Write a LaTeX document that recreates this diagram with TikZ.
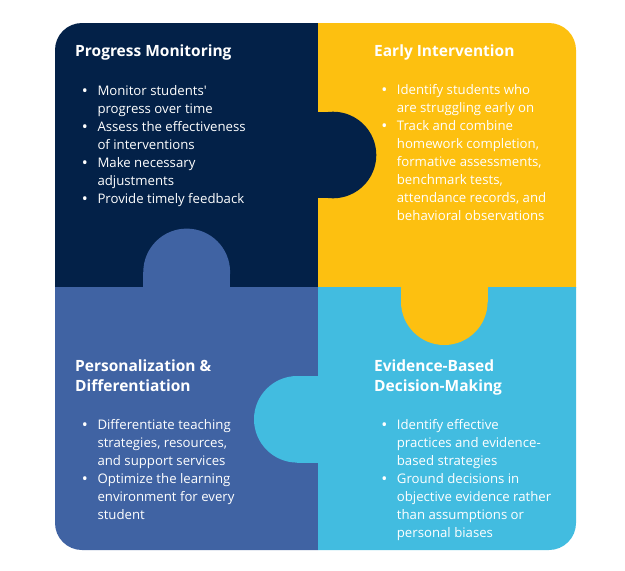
\documentclass[tikz,border=0pt]{standalone}
\usepackage{fontspec}
\setmainfont{Open Sans}
\definecolor{navyc}{RGB}{3,33,72}
\definecolor{yelc}{RGB}{253,192,16}
\definecolor{bluec}{RGB}{64,99,163}
\definecolor{skyc}{RGB}{66,188,224}
\newcommand\bitem[1]{\par\noindent\hangindent=15pt\hangafter=1\makebox[15pt][l]{\hspace{-0.6pt}\raisebox{-1.3pt}{\fontsize{16}{16}\selectfont•}}#1}
\newcommand\blk[2]{\begin{minipage}[t]{#1}\fontsize{13.2}{18.1}\selectfont\raggedright\let\\\newline\parskip=0pt #2\end{minipage}}
\begin{document}
\begin{tikzpicture}[x={(1pt,0)},y={(0,-1pt)},
  ttl/.style={anchor=base west,inner sep=0,text=white,font=\fontsize{15.5}{20.5}\selectfont\bfseries,align=left},
  body/.style={anchor=base west,inner sep=0,text=white}]
\useasboundingbox (0,0) rectangle (625,571);
% quadrants
\begin{scope}\clip (55,23) rectangle (318,287);
\fill[navyc,rounded corners=27pt] (55,23) rectangle (576,550);\end{scope}
\begin{scope}\clip (318,23) rectangle (576,287);
\fill[yelc,rounded corners=27pt] (55,23) rectangle (576,550);\end{scope}
\begin{scope}\clip (55,287) rectangle (318,550);
\fill[bluec,rounded corners=27pt] (55,23) rectangle (576,550);\end{scope}
\begin{scope}\clip (318,287) rectangle (576,550);
\fill[skyc,rounded corners=27pt] (55,23) rectangle (576,550);\end{scope}
% tabs
\fill[bluec] (186.7,272) circle[radius=43.4pt];
\fill[bluec] (143.3,272) rectangle (230.1,287.5);
\fill[navyc] (333,155) circle[radius=43.3pt];
\fill[navyc] (317.5,111.7) rectangle (333,198.3);
\fill[yelc] (444.3,301.7) circle[radius=43.3pt];
\fill[yelc] (401,286.5) rectangle (487.6,301.7);
\fill[skyc] (297.3,419.3) circle[radius=43.3pt];
\fill[skyc] (297.3,376) rectangle (318.5,462.6);
% titles
\node[ttl] (t1) at (75,56) {Progress Monitoring};
\node[ttl] (t2) at (374,56) {Early Intervention};
\node[ttl] (t3) at (75,391.5) {Personalization \&\\Differentiation};
\node[ttl] (t4) at (374,391.5) {Evidence-Based\\Decision-Making};
% bodies
\node[body] (b1) at (82.3,95) {\blk{200pt}{%
\bitem{Monitor students\textquotesingle\\progress over time}
\bitem{Assess the effectiveness\\of interventions}
\bitem{Make necessary\\adjustments}
\bitem{Provide timely feedback}}};
\node[body] (b2) at (381.7,94) {\blk{200pt}{%
\bitem{Identify students who\\are struggling early on}
\bitem{Track and combine\\homework completion,\\formative assessments,\\benchmark tests,\\attendance records, and\\behavioral observations}}};
\node[body] (b3) at (82.3,429.3) {\blk{200pt}{%
\bitem{Differentiate teaching\\strategies, resources,\\and support services}
\bitem{Optimize the learning\\environment for every\\student}}};
\node[body] (b4) at (381.7,429) {\blk{200pt}{%
\bitem{Identify effective\\practices and evidence-\\based strategies}
\bitem{Ground decisions in\\objective evidence rather\\than assumptions or\\personal biases}}};
\end{tikzpicture}
\end{document}
